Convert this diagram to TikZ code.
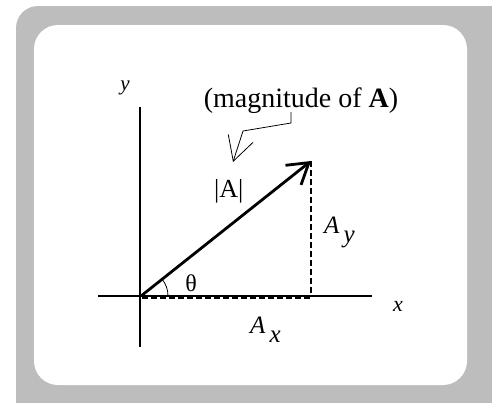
\documentclass[tikz,border=0pt]{standalone}
\usepackage{fontspec}
\setmainfont{Liberation Serif}
\usetikzlibrary{arrows.meta, positioning, calc}
\definecolor{framegray}{HTML}{BDBDBD}
\definecolor{inktext}{HTML}{000000}

\begin{document}
\begin{tikzpicture}[
    x=1pt, y=-1pt,
    axis/.style={line width=1.4pt, color=inktext},
    dashline/.style={line width=2.8pt, dash pattern=on 5.5pt off 3.5pt, color=inktext},
    vec/.style={line width=2.8pt, -{Straight Barb[length=20pt, width=25pt, line width=2.8pt]}},
    pointer/.style={line width=0.8pt, -{Straight Barb[length=24pt, width=26pt, line width=0.8pt]}},
    lbl/.style={inner sep=0pt, font=\fontsize{24}{24}\selectfont\itshape},
    sub/.style={inner sep=0pt, anchor=base west}
]

% Frame
\useasboundingbox (0,0) rectangle (492,402);
\clip (0,0) rectangle (492,402);
\fill[framegray, rounded corners=22pt] (16,6) rectangle (520,430);
\fill[white, rounded corners=24pt] (34,25) rectangle (467,385);

% Points
\coordinate (O) at (141,296);
\coordinate (P) at (311,161);
\coordinate (F) at (311,296);
\coordinate (xl) at (98,296);
\coordinate (xr) at (372,296);
\coordinate (yt) at (140,107);
\coordinate (yb) at (140,347);

% Axes
\draw[axis] (xl) -- (xr);
\draw[axis] (yt) -- (yb);
\node[lbl, font=\fontsize{22}{22}\selectfont\itshape] (xlabel) at (398,306) {x};
\node[lbl, font=\fontsize{21}{21}\selectfont\itshape] (ylabel) at (125,88) {y};

% Components
\draw[dashline] ($(O)+(1,2)$) -- ($(F)+(0,2)$);
\draw[dashline] (P) -- (F);

% Vector
\draw[vec] (O) -- (P);
\draw[line width=0.8pt] ($(O)+(27,0)$) arc (0:-38.5:27);
\node[inner sep=0pt, font=\fontsize{24}{24}\selectfont] (theta) at (191,283) {θ};

% Labels
\node[sub, font=\fontsize{25}{25}\selectfont] (Ay) at (324,233)
    {\textit{A}\kern4pt\raisebox{-9pt}{\textit{y}}};
\node[sub, font=\fontsize{25}{25}\selectfont] (Ax) at (250,333)
    {\textit{A}\kern4pt\raisebox{-9pt}{\textit{x}}};
\node[sub, font=\fontsize{26}{26}\selectfont] (mag) at (214,197) {|A|};
\node[inner sep=0pt, anchor=base, font=\fontsize{28}{28}\selectfont] (title) at (301,107)
    {(magnitude of \textbf{A})};

% Pointer
\coordinate (pa) at (291,112);
\coordinate (pb) at (291,123);
\coordinate (pc) at (243,131);
\coordinate (pd) at (233,162);
\draw[pointer] (pa) -- (pb) -- (pc) -- (pd);

\end{tikzpicture}
\end{document}
